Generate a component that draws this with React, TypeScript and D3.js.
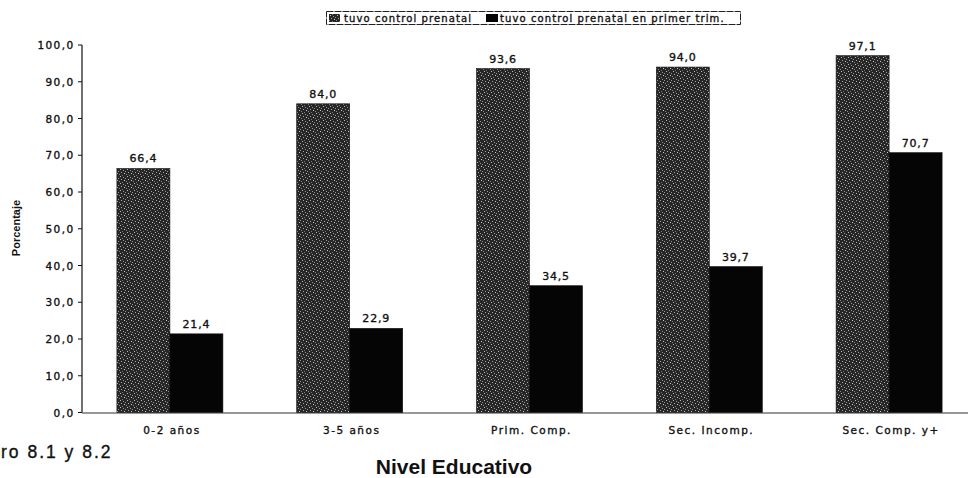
import React from "react";
import * as d3 from "d3";

const categories = ["0-2 años", "3-5 años", "Prim. Comp.", "Sec. Incomp.", "Sec. Comp. y+"];
const seriesNames = ["tuvo control prenatal", "tuvo control prenatal en primer trim."];
const prenatal = [66.4, 84.0, 93.6, 94.0, 97.1];
const primerTrim = [21.4, 22.9, 34.5, 39.7, 70.7];
const yTicks = [0, 10, 20, 30, 40, 50, 60, 70, 80, 90, 100];

const W = 968;
const H = 478;
const fmt = (v: number) => v.toFixed(1).replace(".", ",");
const font = "'DejaVu Sans', Verdana, sans-serif";
const arial = "'Liberation Sans', Arial, sans-serif";
const heavy = { stroke: "#111", strokeWidth: 0.35 };

export default function App() {
  const x0 = d3.scaleBand<string>().domain(categories).range([82, 981]).paddingInner(0).paddingOuter(0);
  const barW = 53;
  const y = d3.scaleLinear().domain([0, 100]).range([412.5, 45]);
  const series = [prenatal, primerTrim];
  const fills = ["url(#speckle)", "#050505"];

  return (
    <svg width={W} height={H} style={{ position: "absolute", left: 0, top: 0, background: "#fff" }} fontFamily={font}>
      <defs>
        <pattern id="speckle" width="7" height="7" patternUnits="userSpaceOnUse">
          <rect width="7" height="7" fill="#262626" />
          <rect x="1" y="1" width="1" height="1" fill="#bbb" />
          <rect x="4" y="2" width="1" height="1" fill="#999" />
          <rect x="2" y="4" width="1" height="1" fill="#aaa" />
          <rect x="5" y="5" width="1" height="1" fill="#ccc" />
          <rect x="0" y="6" width="1" height="1" fill="#888" />
          <rect x="6" y="3" width="1" height="1" fill="#999" />
          <rect x="3" y="0" width="1" height="1" fill="#777" />
        </pattern>
      </defs>

      {/* legend */}
      <rect x={326.5} y={11.5} width={414} height={13} fill="#fff" stroke="#222" strokeWidth={1} strokeDasharray="7,1" />
      <rect x={329} y={14} width={11} height={8} fill="url(#speckle)" />
      <text x={344} y={22} fontSize={10} letterSpacing={1.1} fill="#111" {...heavy}>{seriesNames[0]}</text>
      <rect x={486} y={14} width={12} height={8} fill="#050505" />
      <text x={500} y={22} fontSize={10} letterSpacing={1.1} fill="#111" {...heavy}>{seriesNames[1]}</text>

      {/* y axis */}
      <line x1={82} x2={82} y1={y(100)} y2={y(0)} stroke="#111" strokeWidth={1.2} />
      {yTicks.map((t) => (
        <g key={t}>
          <line x1={78} x2={82} y1={y(t)} y2={y(t)} stroke="#111" />
          <text x={74.5} y={y(t) + 4} fontSize={10.5} letterSpacing={1.4} textAnchor="end" fill="#111" {...heavy}>{fmt(t)}</text>
        </g>
      ))}
      <text transform={`translate(20,${228}) rotate(-90)`} fontFamily={arial} fontSize={11} fontWeight="bold" textAnchor="middle" fill="#111">Porcentaje</text>

      {/* x axis */}
      <line x1={82} x2={968} y1={y(0) + 0.5} y2={y(0) + 0.5} stroke="#333" strokeWidth={1.2} />

      {categories.map((c, i) => {
        const cx = (x0(c) ?? 0) + x0.bandwidth() / 2 - 2;
        return (
          <g key={c}>
            {series.map((s, j) => {
              const bx = cx - barW + j * barW;
              return (
                <g key={j}>
                  <rect x={bx} y={y(s[i])} width={barW} height={y(0) - y(s[i])} fill={fills[j]} stroke="#111" strokeWidth={0.6} />
                  <text x={bx + barW / 2} y={y(s[i]) - 6} fontSize={11} letterSpacing={0.8} textAnchor="middle" fill="#111" {...heavy}>{fmt(s[i])}</text>
                </g>
              );
            })}
            <text x={cx + 2} y={434} fontSize={10.5} letterSpacing={1.5} textAnchor="middle" fill="#111" {...heavy}>{c}</text>
          </g>
        );
      })}

      <text x={454} y={474} fontFamily={arial} fontSize={21} fontWeight="bold" textAnchor="middle" fill="#111">Nivel Educativo</text>
      <text x={1} y={458} fontFamily={arial} fontSize={17.5} letterSpacing={2} fill="#111" {...heavy}>ro 8.1 y 8.2</text>
    </svg>
  );
}
